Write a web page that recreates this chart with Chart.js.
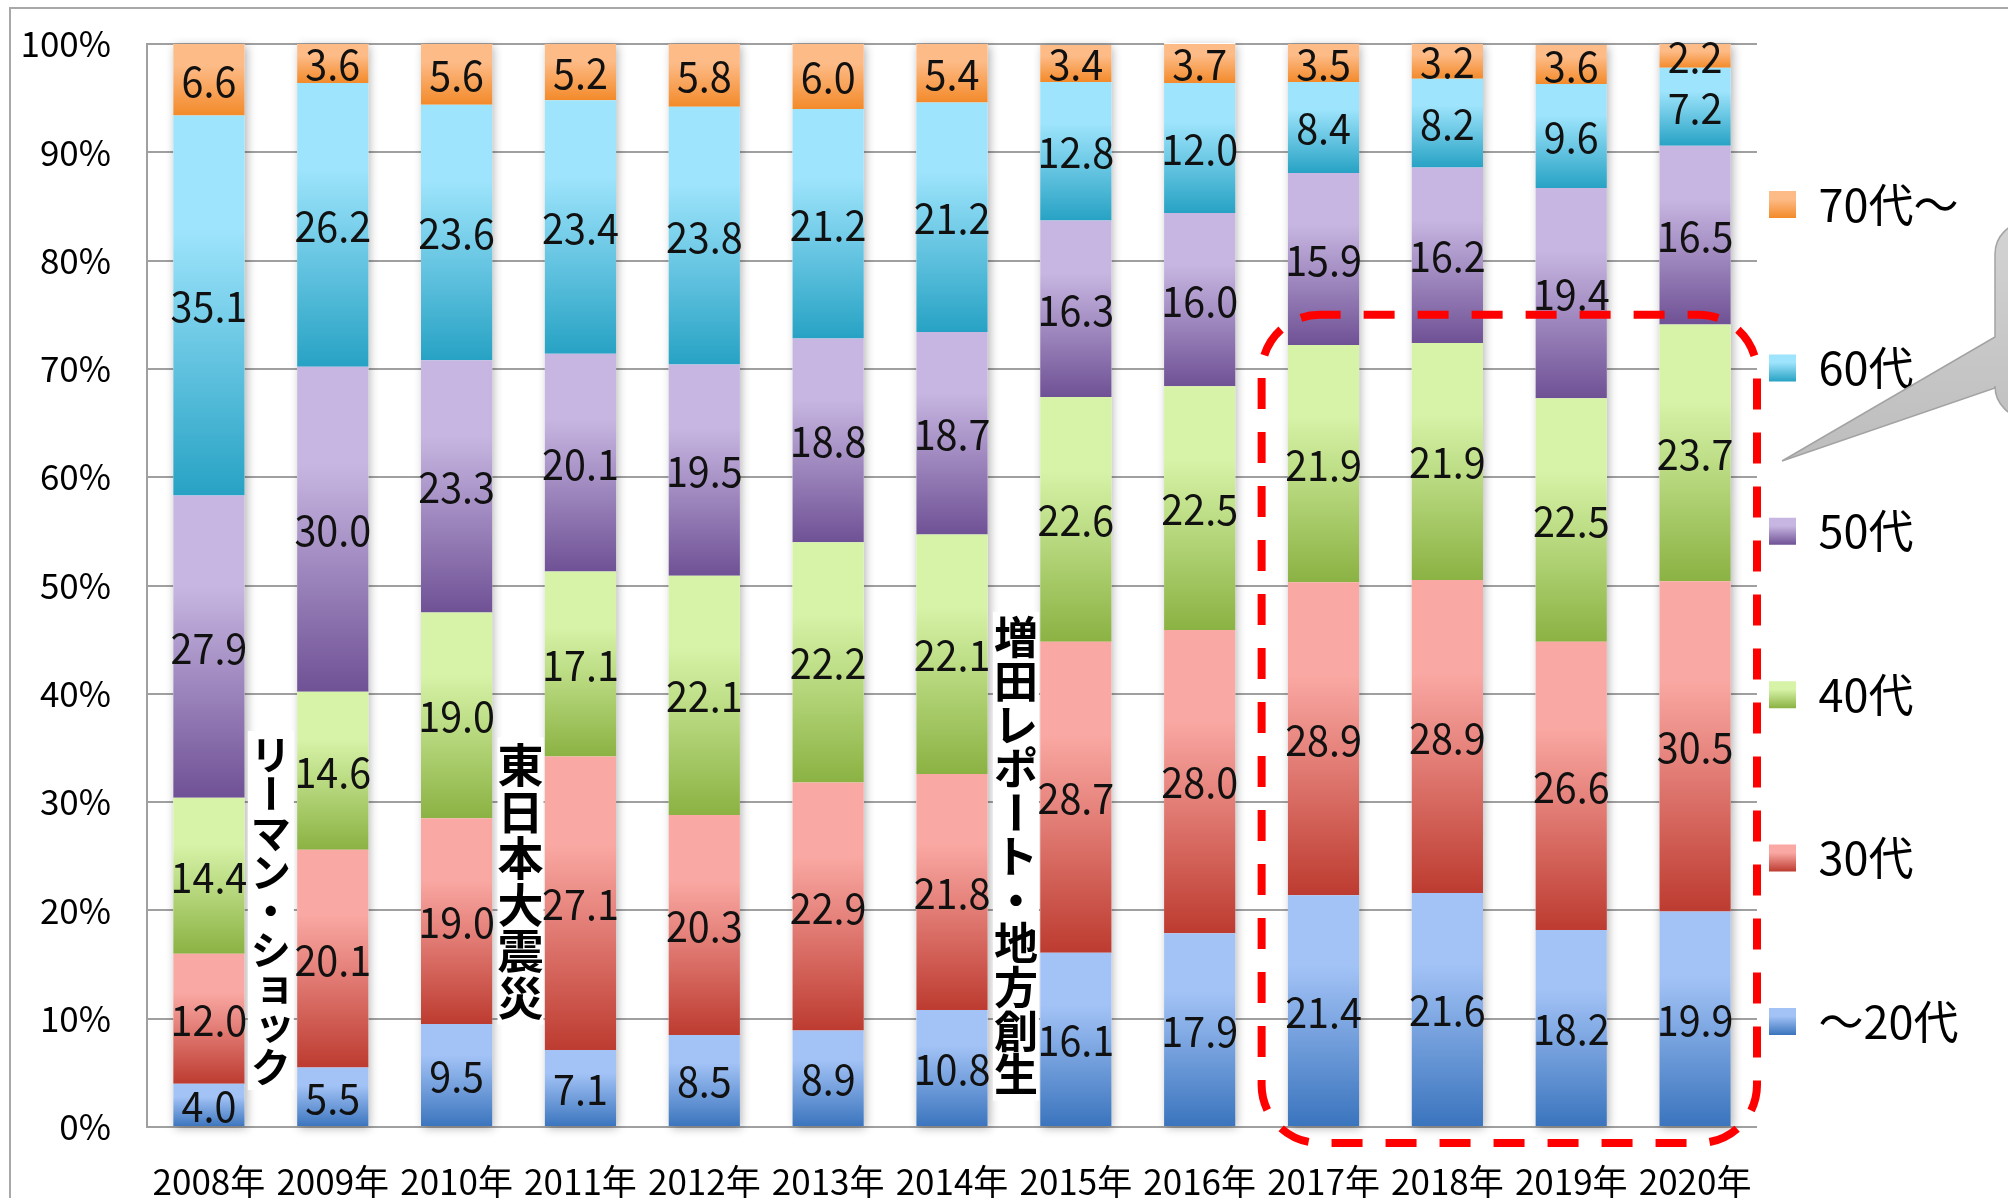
<!DOCTYPE html>
<html>
<head>
<meta charset="utf-8">
<script src="https://cdn.jsdelivr.net/npm/chart.js@4/dist/chart.umd.min.js"></script>
<style>
html,body{margin:0;padding:0;background:#fff;}
canvas{display:block;}
</style>
</head>
<body>
<canvas id="c" width="2008" height="1198"></canvas>
<script>
// ---------------- data ----------------
const categories = ['2008年','2009年','2010年','2011年','2012年','2013年','2014年','2015年','2016年','2017年','2018年','2019年','2020年'];
const seriesNames = ['～20代','30代','40代','50代','60代','70代～'];
const age20 = [4.0, 5.5, 9.5, 7.1, 8.5, 8.9, 10.8, 16.1, 17.9, 21.4, 21.6, 18.2, 19.9];
const age30 = [12.0, 20.1, 19.0, 27.1, 20.3, 22.9, 21.8, 28.7, 28.0, 28.9, 28.9, 26.6, 30.5];
const age40 = [14.4, 14.6, 19.0, 17.1, 22.1, 22.2, 22.1, 22.6, 22.5, 21.9, 21.9, 22.5, 23.7];
const age50 = [27.9, 30.0, 23.3, 20.1, 19.5, 18.8, 18.7, 16.3, 16.0, 15.9, 16.2, 19.4, 16.5];
const age60 = [35.1, 26.2, 23.6, 23.4, 23.8, 21.2, 21.2, 12.8, 12.0, 8.4, 8.2, 9.6, 7.2];
const age70 = [6.6, 3.6, 5.6, 5.2, 5.8, 6.0, 5.4, 3.4, 3.7, 3.5, 3.2, 3.6, 2.2];
const yTickLabels = ['0%','10%','20%','30%','40%','50%','60%','70%','80%','90%','100%'];
const eventLabels = ['リーマン・ショック', '東日本大震災', '増田レポート・地方創生'];
const eventAfterCategory = ['2008年', '2010年', '2014年'];
const highlightFrom = '2017年';

const seriesData = [age20, age30, age40, age50, age60, age70];

// ---------------- styles ----------------
const palette = [
  ['#A3C3F6', '#3A74BD'],
  ['#FAA8A3', '#BD3B30'],
  ['#D7F3A8', '#8BB243'],
  ['#C7B6E1', '#6F5195'],
  ['#9EE4FC', '#27A2C4'],
  ['#FDBB87', '#F38A2A']
];
const FAMILY = "'Noto Sans CJK JP', sans-serif";
const CJK = "'Noto Sans CJK JP', sans-serif";
const W = 2008, H = 1198;
const PLOT = {left: 147, right: 1757, top: 44, bottom: 1127};
const LEG = {font: 45, box: 27, pad: 12, itemH: 151.4, titleH: 126};

function addStops(g, c) {
  g.addColorStop(0, c[0]);
  g.addColorStop(0.3, c[0]);
  g.addColorStop(1, c[1]);
  return g;
}

// legend width -> right padding so the plot ends where it should
const mctx = document.createElement('canvas').getContext('2d');
mctx.font = LEG.font + 'px ' + FAMILY;
const legTextW = Math.max(...seriesNames.map(n => mctx.measureText(n).width));
const legendWidth = LEG.pad + LEG.box + LEG.font / 2 + legTextW + 10;
const padRight = W - PLOT.right - legendWidth;

const datasets = seriesNames.map((name, d) => ({
  label: name,
  data: seriesData[d],
  borderWidth: 0,
  backgroundColor: (context) => {
    const chart = context.chart;
    const ys = chart.scales && chart.scales.y;
    if (context.type !== 'data' || !ys || !chart.chartArea) return palette[d][0];
    const i = context.dataIndex;
    let start = 0;
    for (let k = 0; k < d; k++) start += seriesData[k][i];
    const top = ys.getPixelForValue(start + seriesData[d][i]);
    const bot = ys.getPixelForValue(start);
    if (!isFinite(top) || !isFinite(bot) || top === bot) return palette[d][0];
    return addStops(chart.ctx.createLinearGradient(0, top, 0, bot), palette[d]);
  }
}));

// ---------------- plugins ----------------
const stackShadow = {
  id: 'stackShadow',
  beforeDatasetsDraw(chart) {
    const metas = chart.getSortedVisibleDatasetMetas();
    if (!metas.length) return;
    const ctx = chart.ctx;
    ctx.save();
    metas[0].data.forEach((el, i) => {
      const topEl = metas[metas.length - 1].data[i];
      const w = el.width;
      ctx.shadowColor = 'rgba(0,0,0,0.30)';
      ctx.shadowBlur = 9;
      ctx.shadowOffsetX = 2;
      ctx.shadowOffsetY = 2;
      ctx.fillStyle = '#ffffff';
      ctx.fillRect(el.x - w / 2, topEl.y, w, el.base - topEl.y);
    });
    ctx.restore();
  }
};

const valueLabels = {
  id: 'valueLabels',
  afterDatasetsDraw(chart) {
    const ctx = chart.ctx;
    ctx.save();
    ctx.font = '42px ' + FAMILY;
    ctx.fillStyle = '#111';
    ctx.textAlign = 'center';
    ctx.textBaseline = 'middle';
    chart.data.datasets.forEach((ds, d) => {
      const meta = chart.getDatasetMeta(d);
      meta.data.forEach((el, i) => {
        const v = ds.data[i];
        ctx.save();
        ctx.translate(el.x, (el.y + el.base) / 2 + 1);
        ctx.scale(0.94, 1);
        ctx.fillText(v.toFixed(1), 0, 0);
        ctx.restore();
      });
    });
    ctx.restore();
  }
};

const eventNotes = {
  id: 'eventNotes',
  afterDatasetsDraw(chart, args, opts) {
    const ctx = chart.ctx;
    const xs = chart.scales.x, ys = chart.scales.y;
    ctx.save();
    eventLabels.forEach((text, n) => {
      const idx = categories.indexOf(eventAfterCategory[n]);
      const cx = (xs.getPixelForValue(idx) + xs.getPixelForValue(idx + 1)) / 2 + opts.dx[n];
      const top = ys.getPixelForValue(opts.topValue[n]);
      const pitch = opts.pitch[n];
      const chars = Array.from(text);
      ctx.fillStyle = '#ffffff';
      ctx.fillRect(cx - opts.boxW / 2, top - 4, opts.boxW, chars.length * pitch + 8);
      ctx.fillStyle = '#000';
      ctx.font = 'bold ' + opts.size[n] + 'px ' + CJK;
      ctx.textAlign = 'center';
      ctx.textBaseline = 'middle';
      chars.forEach((ch, k) => {
        const cy = top + pitch * (k + 0.5);
        if (ch === 'ー') {
          ctx.save();
          ctx.translate(cx, cy);
          ctx.rotate(Math.PI / 2);
          ctx.fillText(ch, 0, 0);
          ctx.restore();
        } else if (ch === 'ョ' || ch === 'ッ') {
          ctx.fillText(ch, cx + opts.size[n] * 0.1, cy - opts.size[n] * 0.1);
        } else {
          ctx.fillText(ch, cx, cy);
        }
      });
    });
    ctx.restore();
  }
};

const highlightBox = {
  id: 'highlightBox',
  afterDatasetsDraw(chart, args, opts) {
    const ctx = chart.ctx;
    const xs = chart.scales.x, ys = chart.scales.y;
    const idx = categories.indexOf(highlightFrom);
    const left = (xs.getPixelForValue(idx - 1) + xs.getPixelForValue(idx)) / 2;
    const right = chart.chartArea.right;
    const top = ys.getPixelForValue(opts.topValue);
    const bottom = ys.getPixelForValue(0) + opts.below;
    ctx.save();
    ctx.strokeStyle = '#FF0000';
    ctx.lineWidth = 8;
    ctx.setLineDash([31, 23]);
    ctx.lineDashOffset = 10;
    ctx.beginPath();
    ctx.roundRect(left, top, right - left, bottom - top, 58);
    ctx.stroke();
    ctx.restore();
  }
};

const decorations = {
  id: 'decorations',
  afterDraw(chart) {
    const ctx = chart.ctx;
    ctx.save();
    // outer frame
    ctx.strokeStyle = '#a8a8a8';
    ctx.lineWidth = 2;
    ctx.strokeRect(10, 8, W + 100, H + 100);
    // callout shape (mostly outside the picture)
    const L = 1995, T = 222, B = 418, R = W + 60, r = 32;
    const tipX = 1782, tipY = 461, b1 = 337, b2 = 388;
    ctx.beginPath();
    ctx.moveTo(L + r, T);
    ctx.lineTo(R, T);
    ctx.lineTo(R, B);
    ctx.lineTo(L + r, B);
    ctx.arcTo(L, B, L, B - r, r);
    ctx.lineTo(L, b2);
    ctx.lineTo(tipX, tipY);
    ctx.lineTo(L, b1);
    ctx.lineTo(L, T + r);
    ctx.arcTo(L, T, L + r, T, r);
    ctx.closePath();
    const g = ctx.createLinearGradient(0, T, 0, tipY);
    g.addColorStop(0, '#d3d3d3');
    g.addColorStop(1, '#bdbdbd');
    ctx.fillStyle = g;
    ctx.fill();
    ctx.strokeStyle = '#a3a3a3';
    ctx.lineWidth = 1.5;
    ctx.stroke();
    ctx.restore();
  }
};

// ---------------- chart ----------------
new Chart(document.getElementById('c'), {
  type: 'bar',
  data: { labels: categories, datasets },
  plugins: [stackShadow, eventNotes, valueLabels, highlightBox, decorations],
  options: {
    responsive: false,
    animation: false,
    devicePixelRatio: 1,
    layout: { padding: { top: PLOT.top, left: 0, right: padRight, bottom: 0 } },
    datasets: { bar: { categoryPercentage: 1, barPercentage: 0.575 } },
    scales: {
      x: {
        stacked: true,
        grid: { display: false },
        border: { display: false },
        ticks: { color: '#000', font: { family: FAMILY, size: 35 }, padding: 26, maxRotation: 0, autoSkip: false },
        afterFit: (s) => { s.height = H - PLOT.bottom; s.paddingLeft = 0; s.paddingRight = 0; }
      },
      y: {
        stacked: true,
        min: 0,
        max: 100,
        ticks: {
          stepSize: 10,
          color: '#000',
          font: { family: FAMILY, size: 35 },
          padding: 36,
          callback: (v, i) => yTickLabels[i]
        },
        grid: { color: '#a0a0a0', lineWidth: 2, drawTicks: false },
        border: { display: true, color: '#a0a0a0', width: 2 },
        afterFit: (s) => { s.width = PLOT.left; s.paddingTop = 0; s.paddingBottom = 0; }
      }
    },
    plugins: {
      tooltip: { enabled: false },
      legend: {
        position: 'right',
        align: 'start',
        reverse: true,
        title: { display: true, text: ' ', font: { size: 12, lineHeight: 1 }, padding: { top: LEG.titleH - 12, bottom: 0 } },
        labels: {
          boxWidth: LEG.box,
          boxHeight: LEG.box,
          padding: LEG.pad,
          color: '#000',
          font: { family: FAMILY, size: LEG.font, lineHeight: LEG.itemH / LEG.font },
          generateLabels: (chart) => {
            const lg = chart.legend;
            const lt = (lg && Number.isFinite(lg.top)) ? lg.top : PLOT.top;
            const top0 = lt + LEG.titleH + LEG.pad;
            return seriesNames.map((name, d) => {
              const j = seriesNames.length - 1 - d;
              const by = top0 + j * (LEG.itemH + LEG.pad) + (LEG.font - LEG.box) / 2;
              const g = addStops(chart.ctx.createLinearGradient(0, by, 0, by + LEG.box), palette[d]);
              return { text: [name], fillStyle: g, strokeStyle: 'rgba(0,0,0,0)', lineWidth: 0, hidden: false, datasetIndex: d, fontColor: '#000' };
            });
          }
        }
      },
      eventNotes: {
        topValue: [36.2, 35.6, 47.2],
        pitch: [39, 46.5, 43.7],
        size: [40, 46, 44],
        dx: [0, 2, 2],
        boxW: 46
      },
      highlightBox: { topValue: 75, below: 16 }
    }
  }
});
</script>
</body>
</html>
